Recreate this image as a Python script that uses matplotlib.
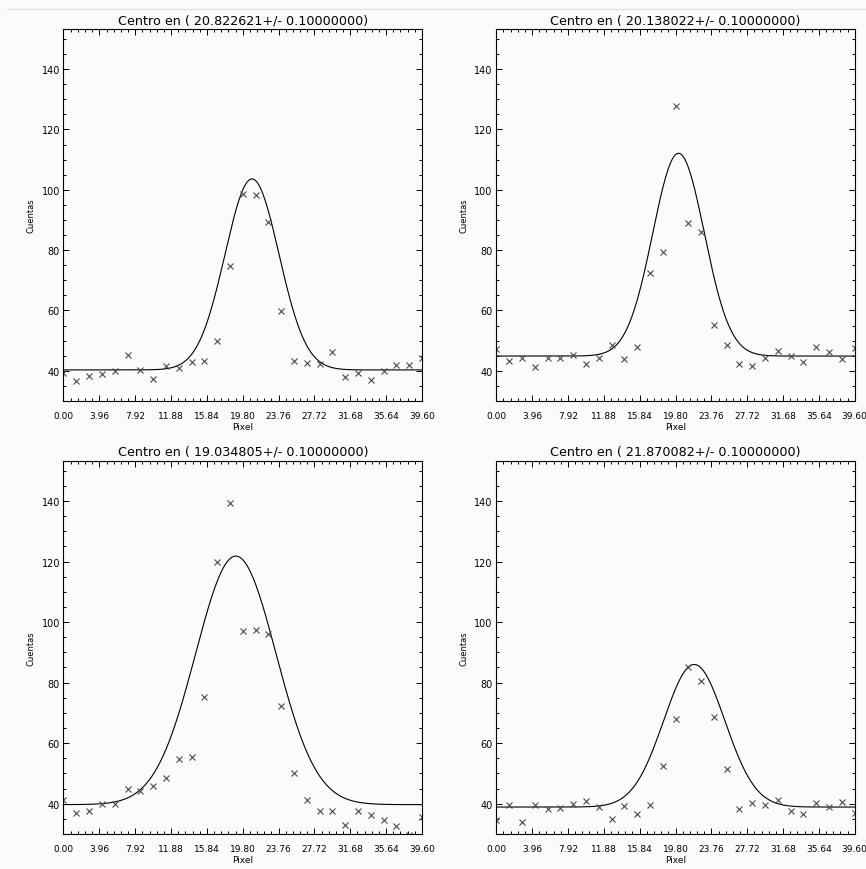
import numpy as np
import matplotlib.pyplot as plt
from matplotlib.ticker import FixedLocator, MultipleLocator
from matplotlib.lines import Line2D

# posiciones en pixel (eje x) y cuentas de cada estrella
pixel = [0.00, 1.41, 2.83, 4.24, 5.66, 7.07, 8.49, 9.90, 11.31, 12.73,
         14.14, 15.56, 16.97, 18.39, 19.80, 21.21, 22.63, 24.04, 25.46, 26.87,
         28.29, 29.70, 31.11, 32.53, 33.94, 35.36, 36.77, 38.19, 39.60]

cuentas_1 = [39.4, 36.6, 38.2, 39.1, 40.0, 45.2, 40.3, 37.2, 41.7, 41.0,
             43.0, 43.2, 49.9, 74.9, 98.7, 98.2, 89.4, 59.7, 43.2, 42.7,
             42.4, 46.1, 37.8, 39.3, 36.9, 40.0, 41.9, 41.9, 44.3]
cuentas_2 = [47.2, 43.2, 44.1, 41.3, 44.4, 44.4, 45.4, 42.3, 44.4, 48.4,
             43.9, 48.0, 72.3, 79.4, 127.7, 88.9, 86.0, 55.2, 48.6, 42.1,
             41.7, 44.3, 46.7, 45.0, 43.0, 48.0, 46.3, 43.8, 47.7]
cuentas_3 = [41.3, 36.9, 37.5, 40.0, 39.9, 44.7, 44.2, 45.9, 48.5, 54.7,
             55.5, 75.1, 119.8, 139.4, 97.0, 97.5, 96.1, 72.2, 50.0, 41.2,
             37.7, 37.5, 33.1, 37.7, 36.2, 34.5, 32.5, 29.6, 35.6]
cuentas_4 = [34.7, 39.7, 33.9, 39.7, 38.2, 38.6, 40.0, 40.8, 38.9, 34.8,
             39.1, 36.7, 39.7, 52.4, 67.9, 85.2, 80.4, 68.6, 51.4, 38.2,
             40.2, 39.7, 41.1, 37.5, 36.7, 40.2, 38.9, 40.5, 36.9]

# parametros del ajuste gaussiano
centros = [20.822621, 20.138022, 19.034805, 21.870082]
amplitud = [63.3, 67.2, 82.1, 47.1]
sigma = [2.98, 2.85, 4.45, 3.38]
fondo = [40.3, 44.9, 39.7, 38.9]
error = 0.10000000

xticks = [0.00, 3.96, 7.92, 11.88, 15.84, 19.80, 23.76, 27.72, 31.68, 35.64, 39.60]
yticks = [40, 60, 80, 100, 120, 140]

datos = [cuentas_1, cuentas_2, cuentas_3, cuentas_4]

W, H = 866, 870
# cajas de los ejes en pixeles: (izq, arriba, der, abajo)
cajas = [(63.5, 30, 422, 402), (496.3, 30, 854.7, 402),
         (63.5, 461.7, 422, 835), (496.3, 461.7, 854.7, 835)]

fig = plt.figure(figsize=(W / 100, H / 100), dpi=100)
fig.patch.set_facecolor('#fbfbfb')
fig.add_artist(Line2D([7 / W, 1], [1 - 10 / H, 1 - 10 / H], color='#dddddd', lw=0.8))

xx = np.linspace(0, 39.6, 500)
for k in range(4):
    l, t, r, b = cajas[k]
    ax = fig.add_axes([l / W, 1 - b / H, (r - l) / W, (b - t) / H])
    ax.set_facecolor('#fbfbfb')

    curva = fondo[k] + amplitud[k] * np.exp(-(xx - centros[k]) ** 2 / (2 * sigma[k] ** 2))
    ax.plot(xx, curva, color='black', lw=0.8)
    ax.plot(pixel, datos[k], 'x', color='#4a4a4a', ms=5, mew=0.8)

    ax.set_xlim(0, 39.6)
    ax.set_ylim(30, 153.3)
    ax.xaxis.set_major_locator(FixedLocator(xticks))
    ax.set_xticklabels(['%.2f' % v for v in xticks])
    ax.xaxis.set_minor_locator(MultipleLocator(0.792))
    ax.yaxis.set_major_locator(FixedLocator(yticks))
    ax.yaxis.set_minor_locator(MultipleLocator(5))
    ax.tick_params(which='both', direction='in', top=True, right=True, width=0.7, colors='black')
    ax.tick_params(which='major', length=4.5)
    ax.tick_params(which='minor', length=2.2)
    ax.tick_params(axis='x', labelsize=6.5, pad=7)
    ax.tick_params(axis='y', labelsize=7, pad=2.5)
    for s in ax.spines.values():
        s.set_linewidth(0.8)

    ax.text(0.5, 1 + 9.3 / (b - t), 'Centro en ( %.6f+/- %.8f)' % (centros[k], error),
            transform=ax.transAxes, ha='center', va='center', fontsize=9.2)
    ax.text(0.5, -26 / (b - t), 'Pixel', transform=ax.transAxes,
            ha='center', va='center', fontsize=6.5)
    ax.text(-32 / (r - l), 0.5, 'Cuentas', transform=ax.transAxes, rotation=90,
            ha='center', va='center', fontsize=6)

plt.savefig('out.png', dpi=100, facecolor=fig.get_facecolor())
